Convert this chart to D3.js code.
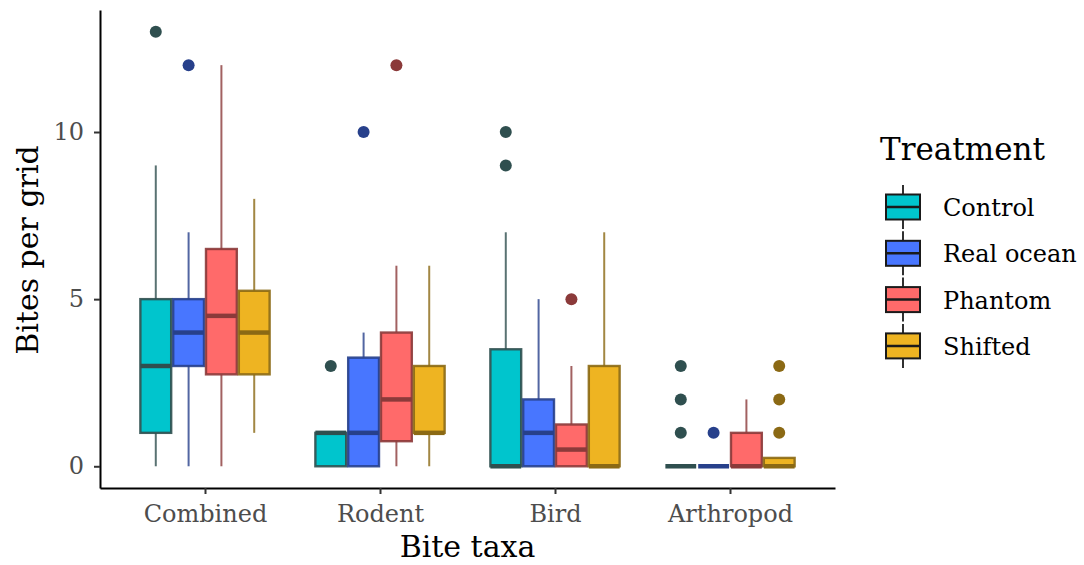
<!DOCTYPE html>
<html>
<head>
<meta charset="utf-8">
<script src="https://cdn.jsdelivr.net/npm/d3@7"></script>
<style>
  html, body { margin: 0; padding: 0; background: #fff; }
  svg { display: block; font-family: "DejaVu Serif", serif; }
</style>
</head>
<body>
<svg id="chart" width="1084" height="565"></svg>
<script>
// Bite taxa on the x axis, one dodged box per treatment
const categories = ["Combined", "Rodent", "Bird", "Arthropod"];
const treatments = ["Control", "Real ocean", "Phantom", "Shifted"];
const yTicks = [0, 5, 10];

// Box statistics per taxon: [lower whisker, Q1, median, Q3, upper whisker]
const controlBox = [[0, 1, 3, 5, 9], [0, 0, 1, 1, 1], [0, 0, 0, 3.5, 7], [0, 0, 0, 0, 0]];
const realOceanBox = [[0, 3, 4, 5, 7], [0, 0, 1, 3.25, 4], [0, 0, 1, 2, 5], [0, 0, 0, 0, 0]];
const phantomBox = [[0, 2.75, 4.5, 6.5, 12], [0, 0.75, 2, 4, 6], [0, 0, 0.5, 1.25, 3], [0, 0, 0, 1, 2]];
const shiftedBox = [[1, 2.75, 4, 5.25, 8], [0, 1, 1, 3, 6], [0, 0, 0, 3, 7], [0, 0, 0, 0.25, 0]];

// Outlying grids per taxon
const controlOutliers = [[13], [3], [9, 10], [1, 2, 3]];
const realOceanOutliers = [[12], [10], [], [1]];
const phantomOutliers = [[], [12], [5], []];
const shiftedOutliers = [[], [], [], [1, 2, 3]];

const boxStats = [controlBox, realOceanBox, phantomBox, shiftedBox];
const outlierSets = [controlOutliers, realOceanOutliers, phantomOutliers, shiftedOutliers];

const fillColors = ["#00C5CD", "#4876FF", "#FF6A6A", "#EEB422"];
const lineColors = ["#2F4F4F", "#27408B", "#8B3A3A", "#8B6914"];

const svg = d3.select("#chart");
const panel = { left: 100, right: 835, top: 10, bottom: 488 };

const x = d3.scalePoint().domain(categories).range([panel.left, panel.right]).padding(0.6);
const dodge = x.step() * 0.75;
const inner = d3.scaleBand().domain(treatments).range([-dodge / 2, dodge / 2]).padding(0);
const y = d3.scaleLinear().domain([-0.65, 13.65]).range([panel.bottom, panel.top]);

// Flatten into one record per box
const boxes = [];
treatments.forEach((t, ti) => {
  categories.forEach((c, ci) => {
    const [lo, q1, med, q3, hi] = boxStats[ti][ci];
    boxes.push({ t, ti, c, lo, q1, med, q3, hi, out: outlierSets[ti][ci] });
  });
});

const g = svg.append("g");
const bw = inner.bandwidth();

const boxG = g.selectAll("g.box").data(boxes).join("g")
  .attr("class", "box")
  .attr("transform", d => `translate(${x(d.c) + inner(d.t)},0)`);

// whiskers
boxG.append("line")
  .attr("x1", bw / 2).attr("x2", bw / 2)
  .attr("y1", d => y(d.hi)).attr("y2", d => y(d.q3))
  .attr("stroke", d => lineColors[d.ti]).attr("stroke-width", 2).attr("stroke-opacity", 0.8);
boxG.append("line")
  .attr("x1", bw / 2).attr("x2", bw / 2)
  .attr("y1", d => y(d.q1)).attr("y2", d => y(d.lo))
  .attr("stroke", d => lineColors[d.ti]).attr("stroke-width", 2).attr("stroke-opacity", 0.8);

// boxes
boxG.append("rect")
  .attr("x", 1).attr("width", bw - 2)
  .attr("y", d => y(d.q3)).attr("height", d => y(d.q1) - y(d.q3))
  .attr("fill", d => fillColors[d.ti])
  .attr("stroke", d => lineColors[d.ti]).attr("stroke-width", 2.4).attr("stroke-opacity", 0.9);

// medians
boxG.append("line")
  .attr("x1", 1).attr("x2", bw - 1)
  .attr("y1", d => y(d.med)).attr("y2", d => y(d.med))
  .attr("stroke", d => lineColors[d.ti]).attr("stroke-width", 4.5);

// outliers
boxG.selectAll("circle").data(d => d.out.map(v => ({ v, ti: d.ti }))).join("circle")
  .attr("cx", bw / 2).attr("cy", d => y(d.v)).attr("r", 6)
  .attr("fill", d => lineColors[d.ti]);

// axes
const yAxis = svg.append("g")
  .attr("transform", `translate(${panel.left},0)`)
  .call(d3.axisLeft(y).tickValues(yTicks).tickSize(6).tickSizeOuter(0).tickPadding(10));
const xAxis = svg.append("g")
  .attr("transform", `translate(0,${panel.bottom})`)
  .call(d3.axisBottom(x).tickSize(6).tickSizeOuter(0).tickPadding(11));

[yAxis, xAxis].forEach(a => {
  a.select(".domain").attr("stroke", "#000").attr("stroke-width", 2);
  a.selectAll(".tick line").attr("stroke", "#333").attr("stroke-width", 2);
  a.selectAll(".tick text").attr("fill", "#4d4d4d")
    .style("font-family", "'DejaVu Serif', serif").style("font-size", "24px");
});

// axis titles
svg.append("text")
  .attr("x", (panel.left + panel.right) / 2).attr("y", 557)
  .attr("text-anchor", "middle").attr("font-size", 30).attr("fill", "#000")
  .text("Bite taxa");
svg.append("text")
  .attr("transform", "translate(38,250) rotate(-90)")
  .attr("text-anchor", "middle").attr("font-size", 30).attr("fill", "#000")
  .text("Bites per grid");

// legend
const legend = svg.append("g");
legend.append("text")
  .attr("x", 880).attr("y", 160)
  .attr("font-size", 31).attr("fill", "#000")
  .text("Treatment");

const keyG = legend.selectAll("g.key").data(treatments).join("g")
  .attr("class", "key")
  .attr("transform", (d, i) => `translate(886,${207 + i * 46.3})`);
keyG.append("line")
  .attr("x1", 17).attr("x2", 17).attr("y1", -22).attr("y2", 22)
  .attr("stroke", "#1a1a1a").attr("stroke-width", 1.8);
keyG.append("rect")
  .attr("x", 0).attr("y", -12.5).attr("width", 34).attr("height", 25)
  .attr("fill", (d, i) => fillColors[i]).attr("stroke", "#1a1a1a").attr("stroke-width", 2);
keyG.append("line")
  .attr("x1", 0).attr("x2", 34).attr("y1", 0).attr("y2", 0)
  .attr("stroke", "#1a1a1a").attr("stroke-width", 2.5);
keyG.append("text")
  .attr("x", 57).attr("y", 9)
  .attr("font-size", 24).attr("fill", "#000")
  .text(d => d);
</script>
</body>
</html>
